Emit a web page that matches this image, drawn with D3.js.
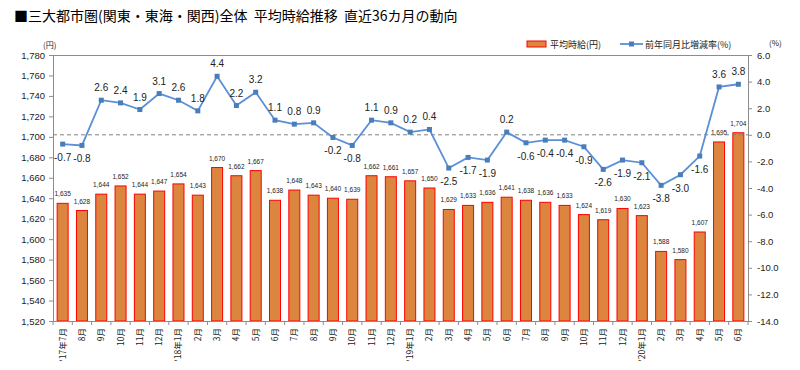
<!DOCTYPE html>
<html><head><meta charset="utf-8">
<script src="https://cdn.jsdelivr.net/npm/d3@7"></script>
<style>
body{margin:0;background:#fff;}
svg{font-family:"Liberation Sans","Noto Sans CJK JP",sans-serif;}
.jp{font-family:"Noto Sans CJK JP","Liberation Sans",sans-serif;}
</style></head><body>
<svg id="c" width="800" height="370"></svg>
<script>
const months = ["'17年7月","8月","9月","10月","11月","12月","'18年1月","2月","3月","4月","5月","6月","7月","8月","9月","10月","11月","12月","'19年1月","2月","3月","4月","5月","6月","7月","8月","9月","10月","11月","12月","'20年1月","2月","3月","4月","5月","6月"];
const wages = [1635,1628,1644,1652,1644,1647,1654,1643,1670,1662,1667,1638,1648,1643,1640,1639,1662,1661,1657,1650,1629,1633,1636,1641,1638,1636,1633,1624,1619,1630,1623,1588,1580,1607,1695,1704];
const rates = [-0.7,-0.8,2.6,2.4,1.9,3.1,2.6,1.8,4.4,2.2,3.2,1.1,0.8,0.9,-0.2,-0.8,1.1,0.9,0.2,0.4,-2.5,-1.7,-1.9,0.2,-0.6,-0.4,-0.4,-0.9,-2.6,-1.9,-2.1,-3.8,-3.0,-1.6,3.6,3.8];
const leftTicks = d3.range(1520,1781,20);
const rightTicks = d3.range(-14,6.01,2);
const title = "■三大都市圏(関東・東海・関西)全体  平均時給推移  直近36カ月の動向";
const legendBar = "平均時給(円)";
const legendLine = "前年同月比増減率(%)";

const fmt1 = d => d3.format(".1f")(d).replace("−","-");
const svg = d3.select("#c");
const L=53, R=748, T=55, B=321;
const x = d3.scaleBand().domain(d3.range(months.length)).range([L,R]).paddingInner(0.43).paddingOuter(0.215);
const y = d3.scaleLinear().domain([1520,1780]).range([B,T]);
const y2 = d3.scaleLinear().domain([-14,6]).range([B,T]);

svg.append("text").attr("class","jp").attr("x",14).attr("y",21).attr("font-size",14).attr("fill","#000")
  .style("white-space","pre").text(title);

svg.append("line").attr("x1",L).attr("x2",R).attr("y1",T+0.5).attr("y2",T+0.5).attr("stroke","#8c8c8c");

const ga = svg.append("g").attr("transform",`translate(${L},0)`)
  .call(d3.axisLeft(y).tickValues(leftTicks).tickSize(4).tickPadding(4).tickFormat(d3.format(",")));
ga.selectAll("path,line").attr("stroke","#8c8c8c");
ga.selectAll("text").attr("font-size",9.5).attr("fill","#222").attr("font-family","Liberation Sans");
const gb = svg.append("g").attr("transform",`translate(${R},0)`)
  .call(d3.axisRight(y2).tickValues(rightTicks).tickSize(4).tickPadding(5).tickFormat(fmt1));
gb.selectAll("path,line").attr("stroke","#8c8c8c");
gb.selectAll("text").attr("font-size",9.5).attr("fill","#222").attr("font-family","Liberation Sans");

svg.append("text").attr("class","jp").attr("x",43).attr("y",48).attr("font-size",8).attr("fill","#222").text("(円)");
svg.append("text").attr("class","jp").attr("x",769).attr("y",46).attr("font-size",8).attr("fill","#222").text("(%)");

svg.append("g").selectAll("rect").data(wages).join("rect")
  .attr("x",(d,i)=>x(i)).attr("width",x.bandwidth())
  .attr("y",d=>y(d)).attr("height",d=>B-y(d))
  .attr("fill","#dc853f").attr("stroke","#ff0000").attr("stroke-width",1);
svg.append("g").selectAll("text").data(wages).join("text")
  .attr("x",(d,i)=>x(i)+x.bandwidth()/2).attr("y",d=>y(d)-7)
  .attr("text-anchor","middle").attr("font-size",6.5).attr("fill","#222")
  .text(d=>d3.format(",")(d));

svg.append("line").attr("x1",L).attr("x2",R).attr("y1",B+0.5).attr("y2",B+0.5).attr("stroke","#8c8c8c");
svg.append("g").selectAll("line").data(d3.range(months.length+1)).join("line")
  .attr("x1",i=>L+i*(R-L)/months.length).attr("x2",i=>L+i*(R-L)/months.length)
  .attr("y1",B).attr("y2",B+4).attr("stroke","#8c8c8c");
svg.append("g").selectAll("text").data(months).join("text")
  .attr("class","jp")
  .attr("transform",(d,i)=>`translate(${x(i)+x.bandwidth()/2+3},${B+7}) rotate(-90)`)
  .attr("text-anchor","end").attr("font-size",8.5).attr("fill","#222").text(d=>d);

svg.append("line").attr("x1",L).attr("x2",R).attr("y1",y2(0)).attr("y2",y2(0))
  .attr("stroke","#808080").attr("stroke-dasharray","4,3");

const cx = i=>x(i)+x.bandwidth()/2;
svg.append("path").datum(rates)
  .attr("d",d3.line().x((d,i)=>cx(i)).y(d=>y2(d)))
  .attr("fill","none").attr("stroke","#5b8fd6").attr("stroke-width",1.8);
svg.append("g").selectAll("rect").data(rates).join("rect")
  .attr("x",(d,i)=>cx(i)-2.5).attr("y",d=>y2(d)-2.5).attr("width",5).attr("height",5).attr("fill","#4a7ebb");
svg.append("g").selectAll("text").data(rates).join("text")
  .attr("x",(d,i)=>cx(i)).attr("y",d=>d>=0? y2(d)-9 : y2(d)+17)
  .attr("text-anchor","middle").attr("font-size",10).attr("fill","#222")
  .text(fmt1);

svg.append("rect").attr("x",527).attr("y",41).attr("width",19).attr("height",6).attr("fill","#dc853f").attr("stroke","#ff0000");
svg.append("text").attr("class","jp").attr("x",550).attr("y",47.5).attr("font-size",9).attr("fill","#222").text(legendBar);
svg.append("line").attr("x1",620).attr("x2",643).attr("y1",44).attr("y2",44).attr("stroke","#5b8fd6").attr("stroke-width",1.8);
svg.append("rect").attr("x",629).attr("y",41.5).attr("width",5).attr("height",5).attr("fill","#4a7ebb");
svg.append("text").attr("class","jp").attr("x",645).attr("y",47.5).attr("font-size",9).attr("fill","#222").text(legendLine);
</script></body></html>
